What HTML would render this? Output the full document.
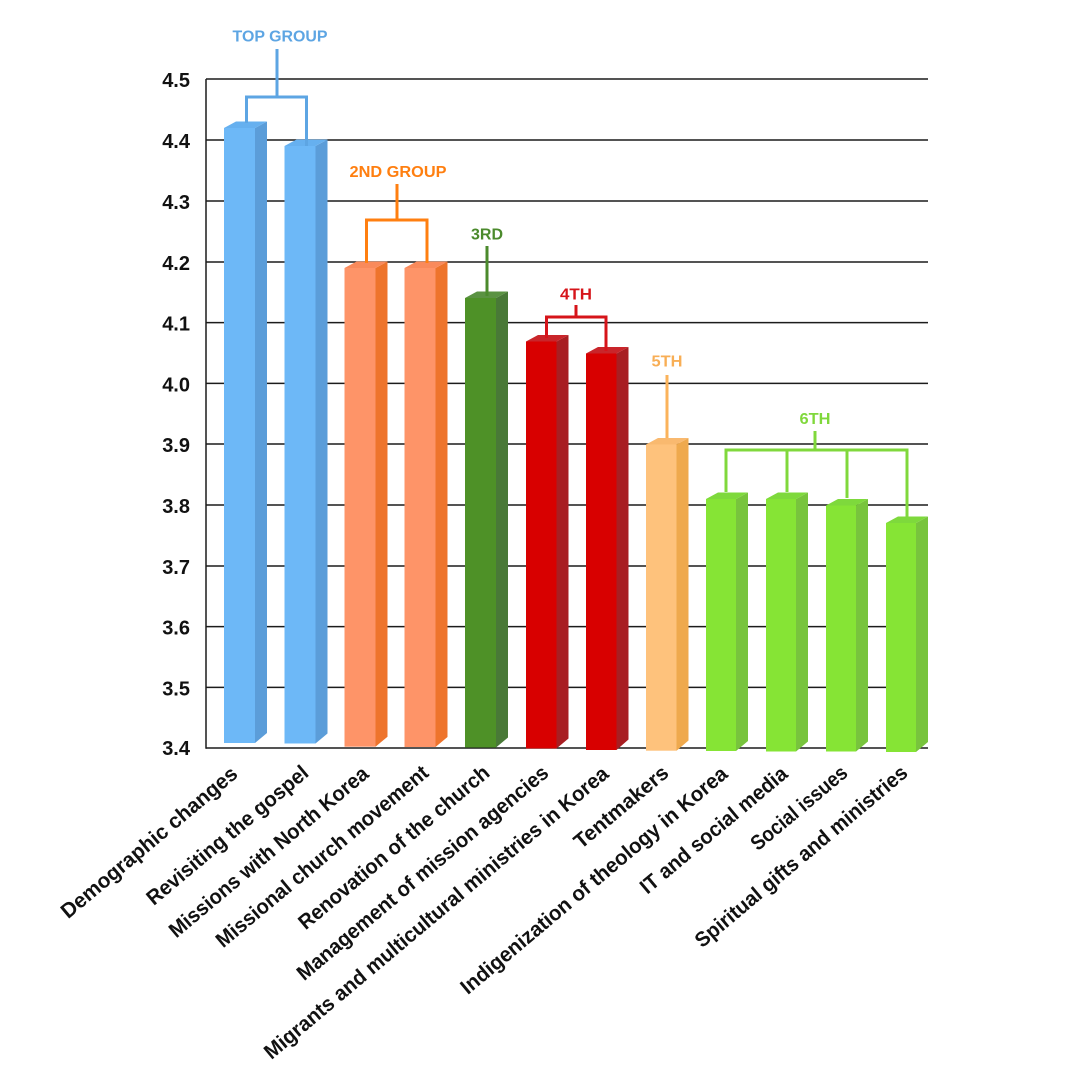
<!DOCTYPE html>
<html>
<head>
<meta charset="utf-8">
<style>
  html, body { margin:0; padding:0; background:#ffffff; }
  svg { display:block; }
  text { font-family: "Liberation Sans", "DejaVu Sans", sans-serif; font-weight: bold; }
</style>
</head>
<body>
<svg width="1080" height="1080" viewBox="0 0 1080 1080" xmlns="http://www.w3.org/2000/svg">
  <rect x="0" y="0" width="1080" height="1080" fill="#ffffff"/>

  <!-- gridlines -->
  <g stroke="#1c1c1c" stroke-width="1.5">
    <line x1="206" y1="79" x2="928" y2="79"/>
    <line x1="206" y1="140" x2="928" y2="140"/>
    <line x1="206" y1="201" x2="928" y2="201"/>
    <line x1="206" y1="262" x2="928" y2="262"/>
    <line x1="206" y1="322.6" x2="928" y2="322.6"/>
    <line x1="206" y1="383.4" x2="928" y2="383.4"/>
    <line x1="206" y1="444" x2="928" y2="444"/>
    <line x1="206" y1="505" x2="928" y2="505"/>
    <line x1="206" y1="566" x2="928" y2="566"/>
    <line x1="206" y1="626.6" x2="928" y2="626.6"/>
    <line x1="206" y1="687.4" x2="928" y2="687.4"/>
    <line x1="206" y1="748" x2="928" y2="748"/>
    <line x1="206" y1="79" x2="206" y2="748.7"/>
  </g>

  <!-- y tick labels -->
  <g font-size="20" fill="#111" text-anchor="end">
    <text x="190" y="87">4.5</text>
    <text x="190" y="148">4.4</text>
    <text x="190" y="209">4.3</text>
    <text x="190" y="270">4.2</text>
    <text x="190" y="330.6">4.1</text>
    <text x="190" y="391.4">4.0</text>
    <text x="190" y="452">3.9</text>
    <text x="190" y="513">3.8</text>
    <text x="190" y="574">3.7</text>
    <text x="190" y="634.6">3.6</text>
    <text x="190" y="695.4">3.5</text>
    <text x="190" y="755">3.4</text>
  </g>

  <!-- bars -->
  <g>
    <rect x="224" y="128" width="31" height="615" fill="#6DB8F7"/>
    <polygon points="255,128 267,121.5 267,733 255,743" fill="#5B9DD9"/>
    <polygon points="224,128 236,121.5 267,121.5 255,128" fill="#66B0EF"/>
  </g>
  <g>
    <rect x="284.5" y="146" width="31" height="597.5" fill="#6DB8F7"/>
    <polygon points="315.5,146 327.5,139.5 327.5,733.5 315.5,743.5" fill="#5B9DD9"/>
    <polygon points="284.5,146 296.5,139.5 327.5,139.5 315.5,146" fill="#66B0EF"/>
  </g>
  <g>
    <rect x="344.5" y="268" width="31" height="478.7" fill="#FE9468"/>
    <polygon points="375.5,268 387.5,261.5 387.5,736.7 375.5,746.7" fill="#EE742C"/>
    <polygon points="344.5,268 356.5,261.5 387.5,261.5 375.5,268" fill="#F98A5B"/>
  </g>
  <g>
    <rect x="404.5" y="268" width="31" height="479" fill="#FE9468"/>
    <polygon points="435.5,268 447.5,261.5 447.5,737 435.5,747" fill="#EE742C"/>
    <polygon points="404.5,268 416.5,261.5 447.5,261.5 435.5,268" fill="#F98A5B"/>
  </g>
  <g>
    <rect x="465" y="298" width="31" height="449.5" fill="#4E9127"/>
    <polygon points="496,298 508,291.5 508,737.5 496,747.5" fill="#497937"/>
    <polygon points="465,298 477,291.5 508,291.5 496,298" fill="#5A9242"/>
  </g>
  <g>
    <rect x="526" y="341.5" width="30.5" height="407" fill="#D80000"/>
    <polygon points="556.5,341.5 568.5,335 568.5,738.5 556.5,748.5" fill="#A81E22"/>
    <polygon points="526,341.5 538,335 568.5,335 556.5,341.5" fill="#C9252A"/>
  </g>
  <g>
    <rect x="586" y="353.5" width="30.5" height="396.5" fill="#D80000"/>
    <polygon points="616.5,353.5 628.5,347 628.5,739.5 616.5,750" fill="#A81E22"/>
    <polygon points="586,353.5 598,347 628.5,347 616.5,353.5" fill="#C9252A"/>
  </g>
  <g>
    <rect x="646" y="444.5" width="30.5" height="306.2" fill="#FEC27C"/>
    <polygon points="676.5,444.5 688.5,438 688.5,740.5 676.5,750.7" fill="#EFA94D"/>
    <polygon points="646,444.5 658,438 688.5,438 676.5,444.5" fill="#F9B96F"/>
  </g>
  <g>
    <rect x="706" y="499" width="30" height="252" fill="#86E435"/>
    <polygon points="736,499 748,492.5 748,741 736,751" fill="#78C43D"/>
    <polygon points="706,499 718,492.5 748,492.5 736,499" fill="#7ED93C"/>
  </g>
  <g>
    <rect x="766" y="499" width="30" height="252.5" fill="#86E435"/>
    <polygon points="796,499 808,492.5 808,741.5 796,751.5" fill="#78C43D"/>
    <polygon points="766,499 778,492.5 808,492.5 796,499" fill="#7ED93C"/>
  </g>
  <g>
    <rect x="826" y="505.5" width="30" height="246" fill="#86E435"/>
    <polygon points="856,505.5 868,499 868,741.5 856,751.5" fill="#78C43D"/>
    <polygon points="826,505.5 838,499 868,499 856,505.5" fill="#7ED93C"/>
  </g>
  <g>
    <rect x="886" y="523" width="30" height="229" fill="#86E435"/>
    <polygon points="916,523 928,516.5 928,742 916,752" fill="#78C43D"/>
    <polygon points="886,523 898,516.5 928,516.5 916,523" fill="#7ED93C"/>
  </g>

  <!-- group brackets -->
  <g fill="none" stroke-width="3" stroke-linecap="butt">
    <g stroke="#5DA5E3">
      <line x1="277" y1="49" x2="277" y2="97"/>
      <polyline points="246.5,123 246.5,97 306.5,97 306.5,146"/>
    </g>
    <g stroke="#FF7F10">
      <line x1="397" y1="184" x2="397" y2="220"/>
      <polyline points="366.5,263 366.5,220 427,220 427,263"/>
    </g>
    <g stroke="#4B8A2C">
      <line x1="487" y1="246" x2="487" y2="296"/>
    </g>
    <g stroke="#D6141A">
      <line x1="576" y1="305" x2="576" y2="317"/>
      <polyline points="546.5,338 546.5,317 606,317 606,351"/>
    </g>
    <g stroke="#FBB35B">
      <line x1="667" y1="375" x2="667" y2="438"/>
    </g>
    <g stroke="#80D83C">
      <line x1="815" y1="431" x2="815" y2="450"/>
      <polyline points="726,492 726,450 907,450 907,517"/>
      <line x1="787" y1="450" x2="787" y2="492"/>
      <line x1="847" y1="450" x2="847" y2="498"/>
    </g>
  </g>

  <!-- group labels -->
  <g font-size="16" text-anchor="middle">
    <text x="280" y="41.7" fill="#5DA5E3" textLength="95" lengthAdjust="spacingAndGlyphs">TOP GROUP</text>
    <text x="398" y="177" fill="#FF7F10" textLength="97" lengthAdjust="spacingAndGlyphs">2ND GROUP</text>
    <text x="487" y="239.3" fill="#4B8A2C" textLength="32" lengthAdjust="spacingAndGlyphs">3RD</text>
    <text x="576" y="299.3" fill="#D6141A" textLength="32" lengthAdjust="spacingAndGlyphs">4TH</text>
    <text x="667" y="366.7" fill="#F8AE55" textLength="31" lengthAdjust="spacingAndGlyphs">5TH</text>
    <text x="815" y="424" fill="#80D83C" textLength="31" lengthAdjust="spacingAndGlyphs">6TH</text>
  </g>

  <!-- category labels -->
  <g font-size="21" fill="#111" text-anchor="end">
    <text x="239" y="776" transform="rotate(-40 239 776)" textLength="223" lengthAdjust="spacingAndGlyphs">Demographic changes</text>
    <text x="310" y="775" transform="rotate(-40 310 775)" textLength="204" lengthAdjust="spacingAndGlyphs">Revisiting the gospel</text>
    <text x="370" y="776" transform="rotate(-40 370 776)" textLength="253" lengthAdjust="spacingAndGlyphs">Missions with North Korea</text>
    <text x="430" y="775" transform="rotate(-40 430 775)" textLength="270" lengthAdjust="spacingAndGlyphs">Missional church movement</text>
    <text x="491" y="775" transform="rotate(-40 491 775)" textLength="242" lengthAdjust="spacingAndGlyphs">Renovation of the church</text>
    <text x="550" y="775" transform="rotate(-40 550 775)" textLength="321" lengthAdjust="spacingAndGlyphs">Management of mission agencies</text>
    <text x="610" y="776" transform="rotate(-40 610 776)" textLength="442" lengthAdjust="spacingAndGlyphs">Migrants and multicultural ministries in Korea</text>
    <text x="670" y="775" transform="rotate(-40 670 775)" textLength="116" lengthAdjust="spacingAndGlyphs">Tentmakers</text>
    <text x="729" y="776" transform="rotate(-40 729 776)" textLength="341" lengthAdjust="spacingAndGlyphs">Indigenization of theology in Korea</text>
    <text x="789" y="776" transform="rotate(-40 789 776)" textLength="185" lengthAdjust="spacingAndGlyphs">IT and social media</text>
    <text x="849" y="775" transform="rotate(-40 849 775)" textLength="119" lengthAdjust="spacingAndGlyphs">Social issues</text>
    <text x="909" y="775" transform="rotate(-40 909 775)" textLength="270" lengthAdjust="spacingAndGlyphs">Spiritual gifts and ministries</text>
  </g>
</svg>
</body>
</html>
